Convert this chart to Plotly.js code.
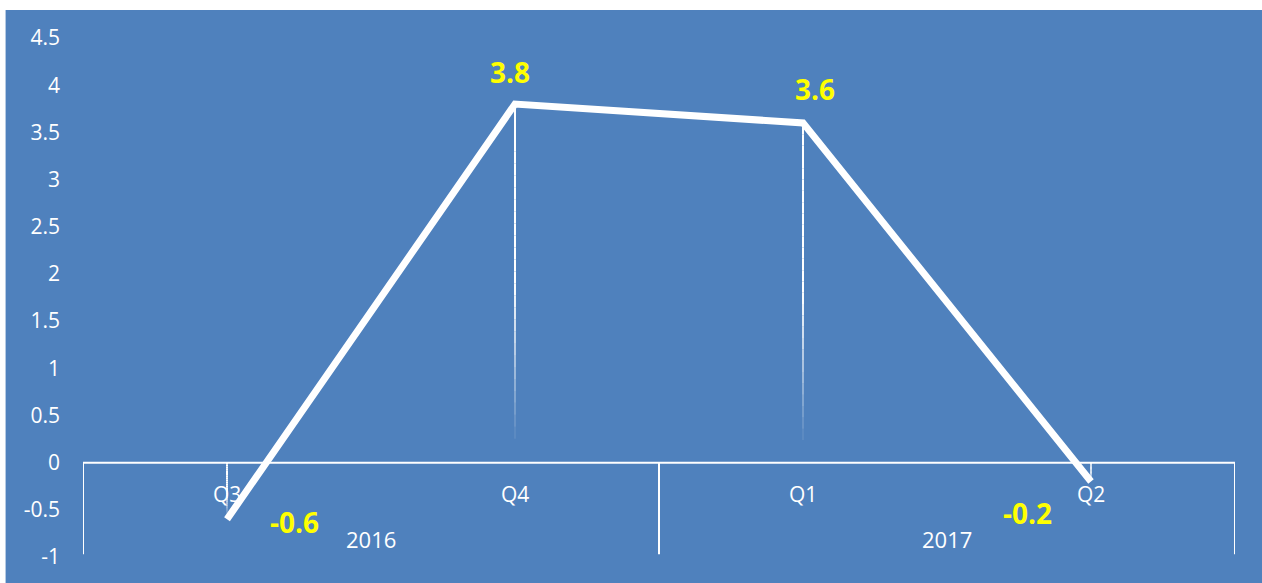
<!DOCTYPE html>
<html>
<head>
<meta charset="utf-8">
<script src="https://cdn.plot.ly/plotly-3.0.1.min.js"></script>
<style>html,body{margin:0;padding:0;background:#fff;}#chart{width:1262px;height:583px;}</style>
</head>
<body>
<div id="chart"></div>
<script>
// ---- data ----
const quarters = ["Q3", "Q4", "Q1", "Q2"];
const years = ["2016", "2016", "2017", "2017"];
const values = [-0.6, 3.8, 3.6, -0.2];
const yTicks = [-1, -0.5, 0, 0.5, 1, 1.5, 2, 2.5, 3, 3.5, 4, 4.5];

// ---- styling ----
const BLUE = "rgb(79,129,189)";
const WHITE = "#ffffff";
const YELLOW = "#ffff00";
const FONT = "Open Sans, Liberation Sans, sans-serif";
// label offsets (px) for each value label
const labelShift = [
  {x: 67, y: -3}, {x: -5, y: 32}, {x: 12, y: 34}, {x: -64, y: -31}
];

const shapes = [];
// blue panel background
shapes.push({type: "rect", xref: "paper", yref: "paper", x0: -0.0672, x1: 1.03, y0: -0.06, y1: 1.054,
  fillcolor: BLUE, line: {width: 0}, layer: "below"});

// category axis line along zero
const xIdx = quarters.map((q, i) => i);
shapes.push({type: "line", xref: "x", yref: "y", x0: -0.5, x1: quarters.length - 0.5, y0: 0, y1: 0,
  line: {color: WHITE, width: 2}});

// year group dividers (edges and boundaries)
const dividerPos = [-0.5];
for (let i = 1; i < years.length; i++) if (years[i] !== years[i - 1]) dividerPos.push(i - 0.5);
dividerPos.push(years.length - 0.5);
dividerPos.forEach(p => shapes.push({type: "line", xref: "x", yref: "y", x0: p, x1: p, y0: 0, y1: -0.97,
  line: {color: WHITE, width: 2}}));

// drop lines with a fading gradient (top -> bottom)
const N = 30;
values.forEach((v, i) => {
  const top = Math.max(v, 0), bot = Math.min(v, 0);
  for (let k = 0; k < N; k++) {
    const f0 = k / N, f1 = (k + 1) / N;
    const fm = (f0 + f1) / 2;
    let op = fm < 0.5 ? 1 : Math.max(0, 1 - (fm - 0.5) / 0.45);
    if (op <= 0) continue;
    shapes.push({type: "line", xref: "x", yref: "y", x0: i, x1: i,
      y0: top - (top - bot) * f0, y1: top - (top - bot) * f1,
      line: {color: "rgba(255,255,255," + op.toFixed(3) + ")", width: 2}, layer: "below"});
  }
});

const annotations = [];
// quarter labels
quarters.forEach((q, i) => annotations.push({x: i, y: 0, xref: "x", yref: "y", text: q, showarrow: false,
  yshift: -31, font: {family: FONT, size: 21, color: WHITE}}));
// year labels centered on groups
const groups = [];
years.forEach((y, i) => {
  const g = groups.length ? groups[groups.length - 1] : null;
  if (g && g.name === y) g.end = i; else groups.push({name: y, start: i, end: i});
});
groups.forEach(g => annotations.push({x: (g.start + g.end) / 2, y: -1, xref: "x", yref: "y", text: g.name,
  showarrow: false, yshift: 18, font: {family: FONT, size: 22, color: WHITE}}));
// value labels
values.forEach((v, i) => annotations.push({x: i, y: v, xref: "x", yref: "y", text: String(v),
  showarrow: false, xshift: labelShift[i].x, yshift: labelShift[i].y,
  font: {family: FONT, size: 28, color: YELLOW, weight: "bold"}}));

const trace = {
  x: xIdx, y: values, type: "scatter", mode: "lines",
  line: {color: WHITE, width: 7}, hoverinfo: "skip", cliponaxis: false
};

const layout = {
  width: 1262, height: 583,
  margin: {l: 83, r: 27, t: 38, b: 26},
  paper_bgcolor: WHITE, plot_bgcolor: "rgba(0,0,0,0)",
  showlegend: false,
  xaxis: {range: [-0.5, quarters.length - 0.5], showgrid: false, zeroline: false, showline: false,
    showticklabels: false, fixedrange: true},
  yaxis: {range: [-1, 4.5], tickvals: yTicks, ticktext: yTicks.map(String), showgrid: false, zeroline: false,
    showline: false, ticks: "", ticklabelstandoff: 22,
    tickfont: {family: FONT, size: 21, color: WHITE}, fixedrange: true},
  shapes: shapes, annotations: annotations
};

Plotly.newPlot("chart", [trace], layout, {displayModeBar: false, staticPlot: true});
</script>
</body>
</html>
